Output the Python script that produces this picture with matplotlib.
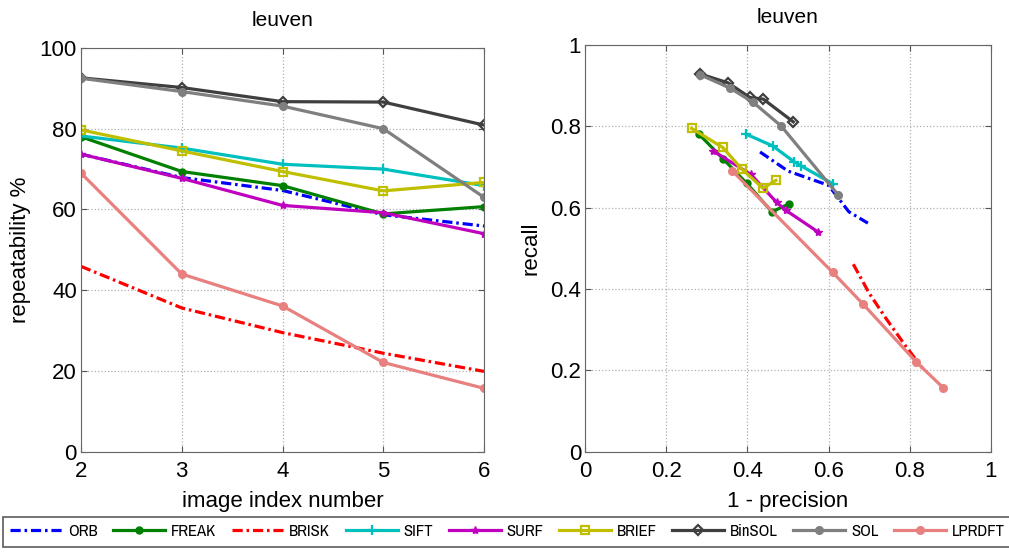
import numpy as np
import matplotlib
matplotlib.use('Agg')
import matplotlib.pyplot as plt
from matplotlib import font_manager

plt.rcParams['font.family'] = ['Liberation Sans', 'DejaVu Sans']

# image index (left) and the series values
idx = [2, 3, 4, 5, 6]

names = ['ORB', 'FREAK', 'BRISK', 'SIFT', 'SURF', 'BRIEF', 'BinSOL', 'SOL', 'LPRDFT']

rep_orb = [73.7, 67.9, 64.7, 58.7, 55.9]
rep_freak = [78.0, 69.4, 65.9, 58.9, 60.7]
rep_brisk = [45.9, 35.6, 29.5, 24.4, 19.9]
rep_sift = [78.2, 75.2, 71.2, 70.0, 65.9]
rep_surf = [73.7, 67.7, 61.0, 59.2, 54.0]
rep_brief = [79.7, 74.5, 69.4, 64.6, 66.7]
rep_binsol = [92.6, 90.2, 86.7, 86.6, 80.9]
rep_sol = [92.5, 89.2, 85.6, 80.0, 63.0]
rep_lprdft = [69.0, 44.0, 36.1, 22.1, 15.7]

# 1 - precision / recall pairs
pr_orb_x = [0.431, 0.50, 0.60, 0.65, 0.697]
pr_orb_y = [0.737, 0.69, 0.655, 0.59, 0.562]
pr_freak_x = [0.280, 0.34, 0.398, 0.460, 0.502]
pr_freak_y = [0.781, 0.72, 0.660, 0.590, 0.609]
pr_brisk_x = [0.661, 0.70, 0.74, 0.79, 0.832]
pr_brisk_y = [0.461, 0.39, 0.33, 0.26, 0.205]
pr_sift_x = [0.396, 0.462, 0.515, 0.532, 0.612]
pr_sift_y = [0.781, 0.752, 0.713, 0.703, 0.658]
pr_surf_x = [0.316, 0.408, 0.472, 0.494, 0.573]
pr_surf_y = [0.739, 0.682, 0.613, 0.594, 0.541]
pr_brief_x = [0.262, 0.339, 0.386, 0.438, 0.470]
pr_brief_y = [0.795, 0.748, 0.695, 0.648, 0.667]
pr_binsol_x = [0.283, 0.352, 0.406, 0.439, 0.513]
pr_binsol_y = [0.929, 0.907, 0.871, 0.867, 0.811]
pr_sol_x = [0.283, 0.357, 0.414, 0.483, 0.624]
pr_sol_y = [0.927, 0.894, 0.859, 0.801, 0.631]
pr_lprdft_x = [0.363, 0.610, 0.686, 0.816, 0.883]
pr_lprdft_y = [0.690, 0.441, 0.362, 0.221, 0.157]

rep = [rep_orb, rep_freak, rep_brisk, rep_sift, rep_surf, rep_brief, rep_binsol, rep_sol, rep_lprdft]
prx = [pr_orb_x, pr_freak_x, pr_brisk_x, pr_sift_x, pr_surf_x, pr_brief_x, pr_binsol_x, pr_sol_x, pr_lprdft_x]
pry = [pr_orb_y, pr_freak_y, pr_brisk_y, pr_sift_y, pr_surf_y, pr_brief_y, pr_binsol_y, pr_sol_y, pr_lprdft_y]

# styles
colors = ['#0000ff', '#008000', '#ff0000', '#00bfbf', '#bf00bf', '#bfbf00', '#3f3f3f', '#7f7f7f', '#e88080']
dashed = [True, False, True, False, False, False, False, False, False]
markers = ['', 'o', '', '+', '*', 's', 'D', 'o', 'o']
msizes = [0, 5, 0, 7, 6, 6, 5, 5.5, 5.5]
mfaces = [None, None, None, None, None, 'none', 'none', None, None]

fig = plt.figure(figsize=(10.09, 5.55), dpi=100)
ax1 = fig.add_axes([0.0803, 0.1861, 0.3994, 0.7275])
ax2 = fig.add_axes([0.5801, 0.1861, 0.4018, 0.7328])

handles = []
for i in range(len(names)):
    kw = dict(color=colors[i], linewidth=2.3, marker=markers[i] or None,
              markersize=msizes[i], markeredgewidth=1.6 if markers[i] in ('+', 's', 'D') else 1)
    if dashed[i]:
        kw['dashes'] = (3.2, 1.2, 0.8, 1.2)
    if mfaces[i]:
        kw['markerfacecolor'] = mfaces[i]
    h, = ax1.plot(idx, rep[i], label=names[i], **kw)
    ax2.plot(prx[i], pry[i], **kw)
    handles.append(h)

for ax in (ax1, ax2):
    ax.grid(True, linestyle=':', color='#b0b0b0', linewidth=0.9)
    ax.tick_params(direction='in', labelsize=16, top=True, right=True, length=4, color='#555555')
    ax.tick_params(axis='x', pad=7)
    ax.tick_params(axis='y', pad=3)
    for s in ax.spines.values():
        s.set_color('#666666')
    ax.set_title('leuven', fontsize=15, pad=16)

ax1.set_xlim(2, 6)
ax1.set_ylim(0, 100)
ax1.set_xticks([2, 3, 4, 5, 6])
ax1.set_yticks([0, 20, 40, 60, 80, 100])
ax1.set_xlabel('image index number', fontsize=16, labelpad=6)
ax1.set_ylabel('repeatability %', fontsize=16, labelpad=6)

ax2.set_xlim(0, 1)
ax2.set_ylim(0, 1)
ax2.set_xticks([0, 0.2, 0.4, 0.6, 0.8, 1])
ax2.set_xticklabels(['0', '0.2', '0.4', '0.6', '0.8', '1'])
ax2.set_yticks([0, 0.2, 0.4, 0.6, 0.8, 1])
ax2.set_yticklabels(['0', '0.2', '0.4', '0.6', '0.8', '1'])
ax2.set_xlabel('1 - precision', fontsize=16, labelpad=6)
ax2.set_ylabel('recall', fontsize=16, labelpad=6)

narrow = [f.name for f in font_manager.fontManager.ttflist if 'Narrow' in f.name or 'Condensed' in f.name]
leg_family = [narrow[0], 'DejaVu Sans'] if narrow else ['Liberation Sans']
leg = fig.legend(handles=handles, loc='lower center', bbox_to_anchor=(0.503, 0.0), ncol=9,
                 prop={'family': leg_family, 'size': 12}, handlelength=3.1, columnspacing=0.95,
                 handletextpad=0.35, fancybox=False, edgecolor='#333333', borderpad=0.45)
leg.get_frame().set_linewidth(1.2)

fig.savefig('out.png', dpi=100)
